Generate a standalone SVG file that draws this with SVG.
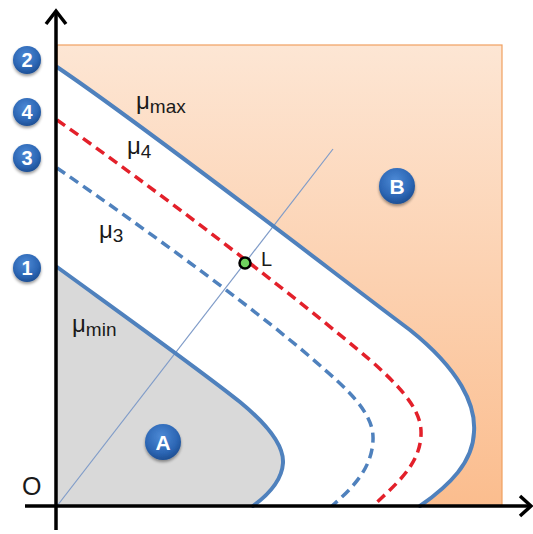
<svg xmlns="http://www.w3.org/2000/svg" width="533" height="534" viewBox="0 0 533 534">
<defs>
<linearGradient id="og" x1="0" y1="0" x2="0" y2="1">
<stop offset="0" stop-color="#fde6d4"/>
<stop offset="1" stop-color="#fbbd8e"/>
</linearGradient>
<radialGradient id="bg" cx="0.45" cy="0.35" r="0.65">
<stop offset="0" stop-color="#4d8ad6"/>
<stop offset="0.7" stop-color="#2c66b4"/>
<stop offset="1" stop-color="#1d4f94"/>
</radialGradient>
<filter id="sh" x="-40%" y="-40%" width="180%" height="180%">
<feGaussianBlur in="SourceAlpha" stdDeviation="1.5"/>
<feOffset dx="0" dy="2" result="b"/>
<feComponentTransfer><feFuncA type="linear" slope="0.4"/></feComponentTransfer>
<feMerge><feMergeNode/><feMergeNode in="SourceGraphic"/></feMerge>
</filter>
</defs>
<style>
.solid{fill:none;stroke:#4f81bd;stroke-width:4;stroke-linecap:round}
.dash{fill:none;stroke-width:3.5;stroke-dasharray:10 6}
.axis{fill:none;stroke:#000;stroke-width:3.5}
.badge{fill:url(#bg);filter:url(#sh)}
.bt{fill:#fff;font-family:"Liberation Sans",Arial,sans-serif;font-weight:bold;text-anchor:middle}
.lab{fill:#1a1a1a;font-family:"Liberation Sans",Arial,sans-serif}
</style>

<g id="regionB">
<rect x="57" y="45" width="445" height="461" fill="url(#og)" stroke="#f0a060" stroke-width="1.2"/>
</g>
<g id="whiteRegion">
<path d="M57,67 C150,130 330,270 410,330 C460,370 476,405 474,432 C473,462 450,485 420,506 L57,506 Z" fill="#ffffff"/>
</g>
<g id="regionA">
<path d="M57,267 C130,320 200,370 240,402 C268,425 284,445 283,463 C282,480 268,495 253,506 L57,506 Z" fill="#d9d9d9"/>
</g>

<g id="connectors">
<line x1="57" y1="506" x2="333" y2="149" stroke="#7f9bc8" stroke-width="1.2"/>
<path id="mu3" class="dash" stroke="#4f81bd" d="M57,168 C150,232 270,320 325,370 C360,400 374,420 373,440 C372,470 350,490 332,506"/>
<path id="mu4" class="dash" stroke="#e3202a" d="M57,120 C150,185 300,300 370,360 C410,395 422,415 421,435 C420,465 395,485 373,506"/>
<path id="mumax" class="solid" d="M57,67 C150,130 330,270 410,330 C460,370 476,405 474,432 C473,462 450,485 420,506"/>
<path id="mumin" class="solid" d="M57,267 C130,320 200,370 240,402 C268,425 284,445 283,463 C282,480 268,495 253,506"/>
<line class="axis" x1="25" y1="506" x2="530" y2="506"/>
<polyline class="axis" points="520,496 531,506 520,516" stroke-linejoin="miter"/>
<line class="axis" x1="56" y1="530" x2="56" y2="12"/>
<polyline class="axis" points="46,24 56,11 66,24" stroke-linejoin="miter"/>
</g>

<g id="pointL">
<circle cx="245" cy="263" r="5.5" fill="#6fd35f" stroke="#000" stroke-width="2.5"/>
<text class="lab" x="261" y="266" font-size="20">L</text>
</g>

<g id="labels">
<text class="lab" x="22" y="495" font-size="25">O</text>
<text class="lab" x="136" y="109" font-size="24">μ<tspan font-size="19" dy="4">max</tspan></text>
<text class="lab" x="127" y="154" font-size="24">μ<tspan font-size="19" dy="4">4</tspan></text>
<text class="lab" x="99" y="238" font-size="24">μ<tspan font-size="19" dy="4">3</tspan></text>
<text class="lab" x="72" y="332" font-size="24">μ<tspan font-size="19" dy="4">min</tspan></text>
</g>

<g id="badge2"><circle class="badge" cx="27" cy="60" r="14"/><text class="bt" x="27" y="67" font-size="20">2</text></g>
<g id="badge4"><circle class="badge" cx="27" cy="112" r="14"/><text class="bt" x="27" y="119" font-size="20">4</text></g>
<g id="badge3"><circle class="badge" cx="27" cy="158" r="14"/><text class="bt" x="27" y="165" font-size="20">3</text></g>
<g id="badge1"><circle class="badge" cx="27" cy="268" r="14"/><text class="bt" x="27" y="275" font-size="20">1</text></g>
<g id="badgeA"><circle class="badge" cx="163" cy="442" r="18"/><text class="bt" x="163" y="450" font-size="21">A</text></g>
<g id="badgeB"><circle class="badge" cx="397" cy="186" r="18"/><text class="bt" x="397" y="194" font-size="21">B</text></g>
</svg>
